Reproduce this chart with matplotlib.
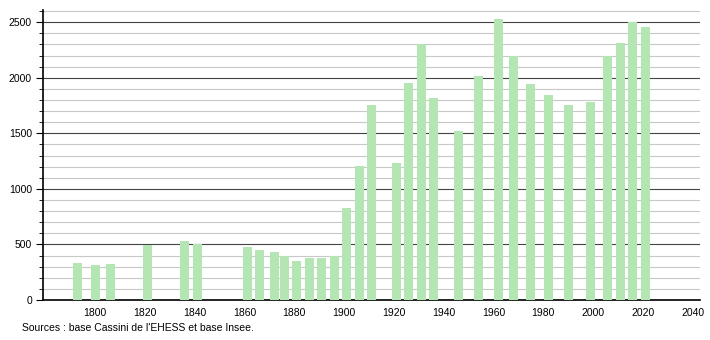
import matplotlib.pyplot as plt
from matplotlib.ticker import MultipleLocator

years = [1793, 1800, 1806, 1821, 1836, 1841, 1861, 1866, 1872, 1876, 1881,
         1886, 1891, 1896, 1901, 1906, 1911, 1921, 1926, 1931, 1936, 1946,
         1954, 1962, 1968, 1975, 1982, 1990, 1999, 2006, 2011, 2016, 2021]
population = [333, 315, 325, 495, 530, 505, 476, 450, 432, 396, 353,
              378, 378, 396, 827, 1205, 1755, 1232, 1951, 2308, 1814, 1520,
              2020, 2527, 2197, 1942, 1844, 1751, 1778, 2197, 2311, 2500, 2455]
xticks = list(range(1800, 2041, 20))
yticks = list(range(0, 2501, 500))
source = "Sources : base Cassini de l'EHESS et base Insee."

plt.rcParams['font.family'] = ['Liberation Sans', 'DejaVu Sans']

fig = plt.figure(figsize=(7.1, 3.4), dpi=100)
ax = fig.add_axes([43 / 710, 40 / 340, 657 / 710, 290 / 340])

ax.bar(years, population, width=3.6, color='#b3e6b3', zorder=3)

ax.set_xlim(1779, 2043)
ax.set_ylim(0, 2610)
ax.set_xticks(xticks)
ax.set_yticks(yticks)
ax.yaxis.set_minor_locator(MultipleLocator(100))
ax.grid(axis='y', which='minor', color='#c8c8c8', linewidth=0.8, zorder=1)
ax.grid(axis='y', which='major', color='#444444', linewidth=0.8, zorder=2)

for side in ['top', 'right']:
    ax.spines[side].set_visible(False)
ax.spines['left'].set_linewidth(1.2)
ax.spines['bottom'].set_linewidth(1.2)
ax.tick_params(axis='x', length=0, labelsize=7.5, pad=6)
ax.tick_params(axis='y', which='major', length=5, labelsize=7.5, pad=3)
ax.tick_params(axis='y', which='minor', length=3)

fig.text(22 / 710, 1 - 328 / 340, source, fontsize=7.5, va='center')

fig.savefig('out.png', dpi=100)
